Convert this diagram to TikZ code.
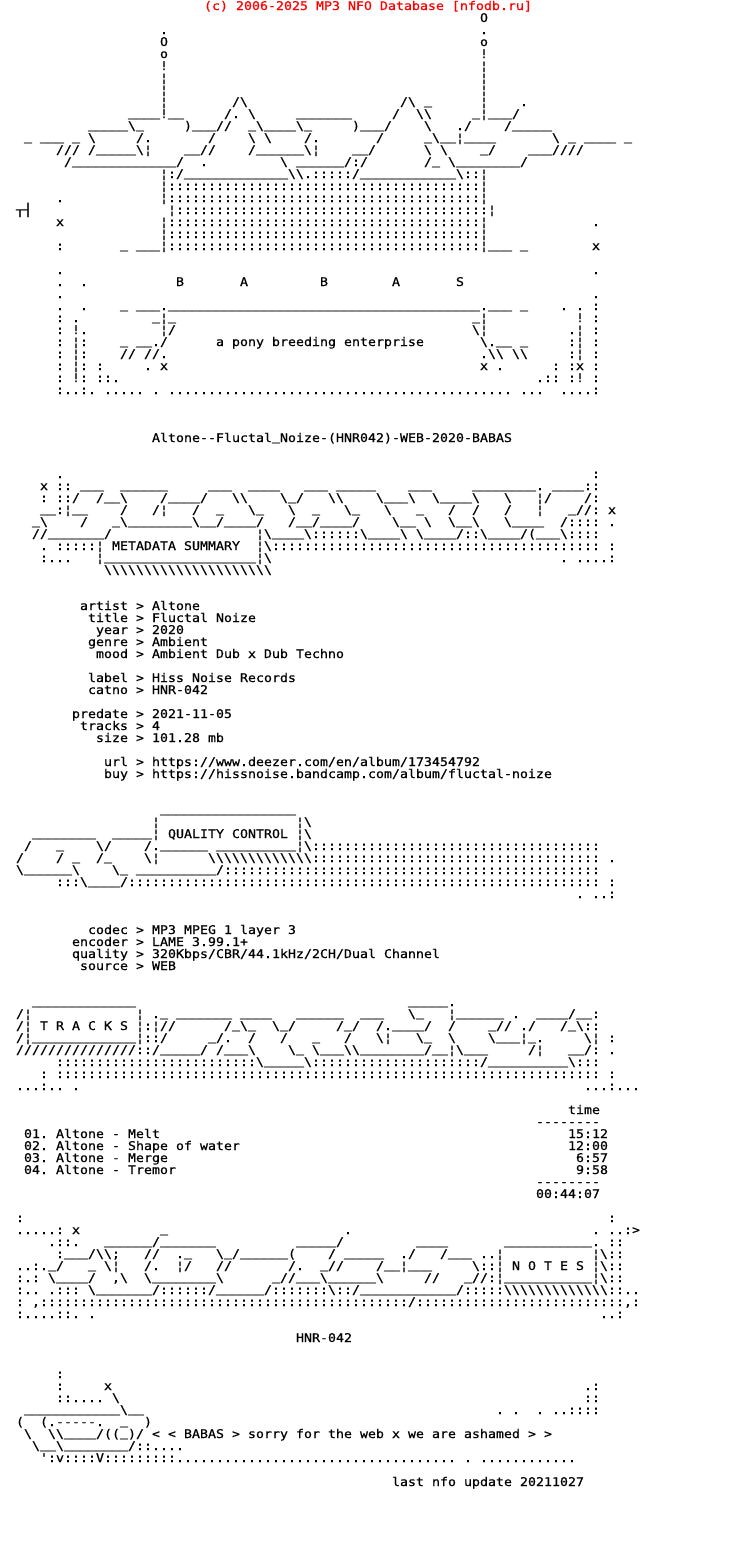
\documentclass[tikz,border=0pt]{standalone}
\usepackage{fontspec}
\newfontfamily\artfont[FakeStretch=1.1073,FakeBold=0.6]{DejaVu Sans Mono}
\makeatletter
\newcount\nn
\newcount\rpc
\edef\usch{\string_}
\newcommand\uu{\raise1.6pt\hbox{\usch}}
{\catcode`\_=\active \gdef_{\uu}}
\def~{\char92 }
\newcommand\artcats{\catcode`\_=\active \catcode32=12 }
\newcommand\rp[2]{\rpc=#1\relax\loop\ifnum\rpc>0 #2\advance\rpc by -1 \repeat}
\newcommand\rw[1]{\def\currow{#1}}
\newcommand\sg[1]{\def\curcol{#1}\begingroup\artcats\sgB}
\def\sgB|#1|{\endgroup\global\advance\nn by 1
  \node[art] (n\the\nn) at ({\curcol*8},{-\currow*12-10}) {#1};}
\newcommand\fl[3]{\global\advance\nn by 1
  \node[art] (n\the\nn) at ({#1*8},{-\currow*12-10}) {\rp{#2}{#3}};}
\makeatother
\tikzset{art/.style={anchor=base west,inner sep=0pt,outer sep=0pt,text=black,
  font=\artfont\fontsize{12}{12}\selectfont},
  hdr/.style={art,text=red}}
\begin{document}
\begin{tikzpicture}[x=1pt,y=1pt]
\useasboundingbox (0,0) rectangle (736,-1548);
\fill[white] (0,0) rectangle (736,-1548);
\node[hdr] (header) at (204,-10) {(c) 2006-2025 MP3 NFO Database [nfodb.ru]};
\rw{1}\sg{60}|O|
\rw{2}\sg{20}|.|\sg{60}|.|
\rw{3}\sg{20}|O|\sg{60}|o|
\rw{4}\sg{20}|o|\sg{60}|!|
\rw{5}\sg{20}|!|\sg{60}|¦|
\rw{6}\sg{20}|¦|\sg{60}|¦|
\rw{7}\sg{20}|¦|\sg{60}|¦|
\rw{8}\sg{20}|¦|\sg{29}|/~|\sg{50}|/~|\sg{53}|_|\sg{60}|¦|\sg{65}|.|
\rw{9}\sg{16}|____!__|\sg{28}|/.|\sg{31}|~|\sg{37}|_______|\sg{49}|/|\sg{52}|~~|\sg{59}|_¦___/|
\rw{10}\sg{11}|_____~_|\sg{23}|)___//|\sg{31}|_~____~_|\sg{44}|)___/|\sg{53}|~|\sg{57}|./|\sg{63}|/_____|
\rw{11}\sg{3}|_|\sg{5}|___|\sg{9}|_|\sg{11}|~|\sg{17}|/.|\sg{26}|/|\sg{31}|~|\sg{33}|~|\sg{38}|/.|\sg{47}|/|\sg{53}|_~__¦____|\sg{69}|~|\sg{71}|_|\sg{73}|____|\sg{78}|_|
\rw{12}\sg{7}|///|\sg{11}|/_____~¦|\sg{23}|__//|\sg{31}|/______~¦|\sg{44}|__/|\sg{53}|~|\sg{55}|~|\sg{60}|_/|\sg{66}|___////|
\rw{13}\sg{8}|/_____________/|\sg{25}|.|\sg{35}|~|\sg{37}|______/:/|\sg{53}|/_|\sg{56}|~________/|
\rw{14}\sg{20}|¦:/_____________~~.:::::/____________~::¦|
\rw{15}\sg{20}|¦|\fl{21}{39}{:}\sg{60}|¦|
\rw{16}\sg{7}|.|\sg{20}|¦|\fl{21}{39}{:}\sg{60}|¦|
\rw{17}\sg{2}|┬┤|\sg{21}|¦|\fl{22}{39}{:}\sg{61}|¦|
\rw{18}\sg{7}|x|\sg{20}|¦|\fl{21}{39}{:}\sg{60}|¦|\sg{74}|.|
\rw{19}\sg{20}|¦|\fl{21}{39}{:}\sg{60}|¦|
\rw{20}\sg{7}|:|\sg{15}|_|\sg{17}|___|\sg{20}|¦|\fl{21}{39}{:}\sg{60}|¦___|\sg{65}|_|\sg{74}|x|
\rw{22}\sg{7}|.|\sg{74}|.|
\rw{23}\sg{7}|.|\sg{10}|.|\sg{22}|B|\sg{30}|A|\sg{40}|B|\sg{49}|A|\sg{57}|S|
\rw{24}\sg{7}|.|\sg{74}|.|
\rw{25}\sg{7}|.|\sg{10}|.|\sg{15}|_|\sg{17}|___.|\fl{21}{39}{\uu}\sg{60}|.___|\sg{65}|_|\sg{70}|.|\sg{72}|.|\sg{74}|:|
\rw{26}\sg{7}|:|\sg{9}|.|\sg{19}|_¦_|\sg{59}|_¦|\sg{72}|!|\sg{74}|:|
\rw{27}\sg{7}|:|\sg{9}|!.|\sg{20}|¦/|\sg{59}|~¦|\sg{71}|.¦|\sg{74}|:|
\rw{28}\sg{7}|:|\sg{9}|¦:|\sg{15}|_|\sg{17}|__./|\sg{27}|a pony breeding enterprise|\sg{60}|~.__|\sg{65}|_|\sg{71}|:¦|\sg{74}|:|
\rw{29}\sg{7}|:|\sg{9}|¦:|\sg{15}|//|\sg{18}|//.|\sg{60}|.~~|\sg{64}|~~|\sg{71}|:¦|\sg{74}|:|
\rw{30}\sg{7}|:|\sg{9}|¦:|\sg{12}|:|\sg{18}|.|\sg{20}|x|\sg{60}|x|\sg{62}|.|\sg{69}|:|\sg{71}|:x|\sg{74}|:|
\rw{31}\sg{7}|:|\sg{9}|!:|\sg{12}|::.|\sg{67}|.::|\sg{71}|:!|\sg{74}|:|
\rw{32}\sg{7}|:..:.|\sg{13}|.....|\sg{19}|.|\fl{21}{43}{.}\sg{65}|...|\sg{70}|....:|
\rw{36}\sg{19}|Altone--Fluctal_Noize-(HNR042)-WEB-2020-BABAS|
\rw{39}\sg{7}|.|\sg{74}|:|
\rw{40}\sg{5}|x|\sg{7}|::|\sg{10}|___|\sg{15}|______|\sg{26}|___|\sg{31}|____|\sg{38}|___|\sg{42}|_____|\sg{51}|___|\sg{59}|________|\sg{67}|.|\sg{69}|____::|
\rw{41}\sg{5}|:|\sg{7}|::/|\sg{12}|/__~|\sg{20}|/____/|\sg{29}|~~|\sg{35}|~_/|\sg{41}|~~|\sg{47}|~___~|\sg{54}|~____~|\sg{63}|~|\sg{67}|¦/|\sg{73}|/:|
\rw{42}\sg{5}|__:¦__|\sg{15}|/|\sg{19}|/¦|\sg{24}|/|\sg{27}|_|\sg{31}|~_|\sg{36}|~|\sg{39}|_|\sg{43}|~_|\sg{48}|~|\sg{52}|_|\sg{56}|/|\sg{59}|/|\sg{63}|/|\sg{67}|¦|\sg{71}|_//:|\sg{76}|x|
\rw{43}\sg{4}|_~|\sg{10}|/|\sg{14}|_~________~__/____/|\sg{36}|/__/____/|\sg{49}|~__|\sg{53}|~|\sg{56}|~__~|\sg{63}|~____|\sg{70}|/::::|\sg{76}|.|
\rw{44}\sg{4}|//_______/|\sg{32}|¦~____~::::::~____~|\sg{52}|~____/::~____/(___~::::|
\rw{45}\sg{5}|.|\sg{7}|:::::¦|\sg{14}|METADATA SUMMARY|\sg{32}|¦~|\fl{34}{41}{:}\sg{76}|:|
\rw{46}\sg{5}|:...|\sg{12}|¦___________________¦~|\sg{70}|.|\sg{72}|....:|
\rw{47}\fl{13}{21}{~}
\rw{50}\sg{10}|artist > Altone|
\rw{51}\sg{11}|title > Fluctal Noize|
\rw{52}\sg{12}|year > 2020|
\rw{53}\sg{11}|genre > Ambient|
\rw{54}\sg{12}|mood > Ambient Dub x Dub Techno|
\rw{56}\sg{11}|label > Hiss Noise Records|
\rw{57}\sg{11}|catno > HNR-042|
\rw{59}\sg{9}|predate > 2021-11-05|
\rw{60}\sg{10}|tracks > 4|
\rw{61}\sg{12}|size > 101.28 mb|
\rw{63}\sg{13}|url > https://www.deezer.com/en/album/173454792|
\rw{64}\sg{13}|buy > https://hissnoise.bandcamp.com/album/fluctal-noize|
\rw{67}\sg{20}|_________________|
\rw{68}\sg{19}|¦|\sg{37}|¦~|
\rw{69}\sg{4}|________|\sg{14}|_____¦|\sg{21}|QUALITY CONTROL|\sg{37}|¦~|
\rw{70}\sg{3}|/|\sg{7}|_|\sg{12}|~/|\sg{18}|/.______|\sg{27}|__________¦~|\fl{39}{36}{:}
\rw{71}\sg{2}|/|\sg{7}|/|\sg{9}|_|\sg{12}|/_|\sg{18}|~¦|\fl{26}{13}{~}\fl{39}{36}{:}\sg{76}|.|
\rw{72}\sg{2}|~______~|\sg{14}|~_|\sg{17}|__________/|\fl{28}{47}{:}
\rw{73}\sg{7}|:::~____/|\fl{16}{59}{:}\sg{76}|:|
\rw{74}\sg{72}|.|\sg{74}|..:|
\rw{77}\sg{11}|codec > MP3 MPEG 1 layer 3|
\rw{78}\sg{9}|encoder > LAME 3.99.1+|
\rw{79}\sg{9}|quality > 320Kbps/CBR/44.1kHz/2CH/Dual Channel|
\rw{80}\sg{10}|source > WEB|
\rw{83}\sg{4}|_____________|\sg{51}|_____.|
\rw{84}\sg{2}|/¦|\sg{17}|¦|\sg{19}|._|\sg{22}|_______|\sg{30}|____|\sg{37}|______|\sg{45}|___|\sg{51}|~_|\sg{56}|¦______|\sg{64}|.|\sg{67}|____/__:|
\rw{85}\sg{2}|/¦|\sg{5}|T R A C K S|\sg{17}|¦:¦//|\sg{28}|/_~_|\sg{34}|~_/|\sg{42}|/_/|\sg{47}|/.____/|\sg{56}|/|\sg{61}|_//|\sg{65}|./|\sg{70}|/_~::|
\rw{86}\sg{2}|/¦_____________¦::/|\sg{26}|_/.|\sg{31}|/|\sg{35}|/|\sg{39}|_|\sg{43}|/|\sg{47}|~¦|\sg{52}|~_|\sg{56}|~|\sg{61}|~___¦_.|\sg{73}|~¦|\sg{76}|:|
\rw{87}\fl{2}{15}{/}\sg{17}|::/_____/|\sg{27}|/___~|\sg{36}|~_|\sg{39}|~___~~________/__¦~___|\sg{66}|/¦|\sg{71}|__/:|\sg{76}|.|
\rw{88}\fl{7}{25}{:}\sg{32}|~_____~|\fl{39}{21}{:}\sg{60}|/__________~:::|
\rw{89}\sg{5}|:|\fl{7}{68}{:}\sg{76}|:|
\rw{90}\sg{2}|...:..|\sg{9}|.|\sg{73}|...:...|
\rw{92}\sg{71}|time|
\rw{93}\sg{67}|--------|
\rw{94}\sg{3}|01. Altone - Melt|\sg{71}|15:12|
\rw{95}\sg{3}|02. Altone - Shape of water|\sg{71}|12:00|
\rw{96}\sg{3}|03. Altone - Merge|\sg{72}|6:57|
\rw{97}\sg{3}|04. Altone - Tremor|\sg{72}|9:58|
\rw{98}\sg{67}|--------|
\rw{99}\sg{67}|00:44:07|
\rw{101}\sg{2}|:|\sg{76}|:|
\rw{102}\sg{2}|.....:|\sg{9}|x|\sg{20}|_|\sg{43}|.|\sg{74}|.|\sg{76}|..:>|
\rw{103}\sg{6}|.::.|\sg{13}|______/_______|\sg{37}|_____/|\sg{52}|____|\sg{63}|___________.|\sg{76}|::|
\rw{104}\sg{7}|:___/~~;|\sg{18}|//|\sg{22}|._|\sg{27}|~_/______(|\sg{41}|/|\sg{43}|_____|\sg{50}|./|\sg{55}|/___|\sg{60}|..¦|\sg{74}|¦~::|
\rw{105}\sg{2}|..:._/|\sg{11}|_|\sg{13}|~¦|\sg{18}|/.|\sg{22}|¦/|\sg{27}|//|\sg{36}|/.|\sg{40}|_//|\sg{47}|/__¦___|\sg{59}|~::¦|\sg{64}|N O T E S|\sg{74}|¦~::|
\rw{106}\sg{2}|:.:|\sg{6}|~____/|\sg{14}|,~|\sg{18}|~________~|\sg{34}|_//___~______~|\sg{53}|//|\sg{58}|_//:¦___________¦~::|
\rw{107}\sg{2}|:..|\sg{6}|.:::|\sg{11}|~_______/::::::/______/:::::::~::/____________/:::::|\fl{63}{13}{~}\sg{76}|::..|
\rw{108}\sg{2}|:|\sg{4}|,|\fl{5}{46}{:}\sg{51}|/|\fl{52}{26}{:}\sg{78}|,:|
\rw{109}\sg{2}|:....::.|\sg{11}|.|\sg{75}|..:|
\rw{111}\sg{37}|HNR-042|
\rw{114}\sg{7}|:|
\rw{115}\sg{7}|:|\sg{13}|x|\sg{73}|.:|
\rw{116}\sg{7}|::....|\sg{14}|~|\sg{73}|::|
\rw{117}\sg{3}|____________~__|\sg{62}|.|\sg{64}|.|\sg{67}|.|\sg{69}|..::::|
\rw{118}\sg{2}|(|\sg{5}|(.-----.|\sg{15}|_|\sg{18}|)|
\rw{119}\sg{3}|~|\sg{6}|~~____/((_)/|\sg{19}|< < BABAS > sorry for the web x we are ashamed > >|
\rw{120}\sg{4}|~__~________/::....|
\rw{121}\sg{5}|':v::::V|\fl{13}{9}{:}\fl{22}{35}{.}\sg{58}|.|\fl{60}{12}{.}
\rw{123}\sg{49}|last nfo update 20211027|
\end{tikzpicture}
\end{document}
